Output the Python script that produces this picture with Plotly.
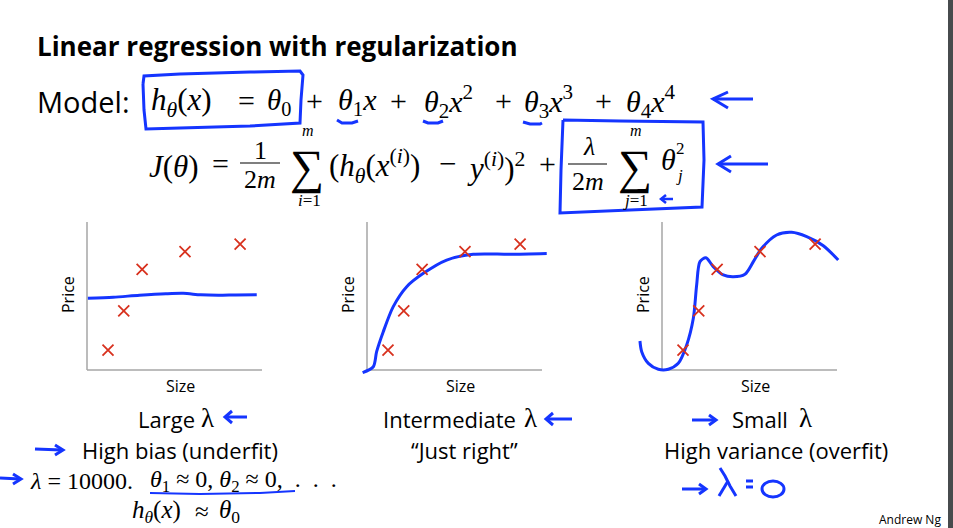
import plotly.graph_objects as go

W, H = 953, 528
SANS = "Open Sans"
SERIF = "Liberation Serif"
BLUE = "#1535ff"
RED = "#d8321f"

size_pts = [1.2, 2.1, 3.15, 5.6, 8.75]
price_pts = [1.35, 4.0, 6.8, 8.0, 8.5]

under_x = [0.05, 1.5, 3.0, 4.5, 5.5, 6.5, 7.5, 8.5, 9.7]
under_y = [4.85, 4.92, 5.05, 5.15, 5.18, 5.08, 5.05, 5.07, 5.08]

right_x = [-0.25, 0.36, 0.55, 0.93, 1.5, 2.27, 3.22, 4.55, 6.07, 8.17, 10.27]
right_y = [-0.18, 0.22, 1.24, 2.59, 4.28, 5.63, 6.53, 7.43, 7.82, 7.82, 7.88]

over_x = [-1.26, -1.16, -0.78, -0.21, 0.36, 0.93, 1.41, 1.79, 1.98, 2.17, 2.51,
          2.93, 3.50, 4.07, 4.74, 5.22, 5.70, 6.55, 7.41, 8.27, 9.22, 10.07]
over_y = [1.96, 1.24, 0.45, 0.05, 0.05, 0.45, 1.69, 3.49, 5.74, 7.32, 7.59,
          6.98, 6.42, 6.30, 6.47, 7.32, 8.22, 9.12, 9.30, 9.01, 8.40, 7.43]

curves = [(under_x, under_y), (right_x, right_y), (over_x, over_y)]
axis_labels = ["Size", "Price"]

# ---- layout helpers ----
def px(x):
    return x / W

def py(y):
    return 1 - y / H

annotations = []
shapes = []

def ann(text, x, y, size, family=SANS, color="black", xa="center", ya="middle", angle=0):
    annotations.append(dict(text=text, x=px(x), y=py(y), xref="paper", yref="paper",
                            showarrow=False, xanchor=xa, yanchor=ya, textangle=angle,
                            font=dict(size=size, family=family, color=color)))

def pen(points, width=3, color=BLUE, closed=False):
    d = "M " + " L ".join(f"{px(a):.5f},{py(b):.5f}" for a, b in points)
    if closed:
        d += " Z"
    shapes.append(dict(type="path", path=d, xref="paper", yref="paper",
                       line=dict(color=color, width=width)))

fig = go.Figure()

# subplot geometry (pixels): axis origins
origins = [87, 367, 662]
oy = 370
ux, uy = 17.5, 14.8
xr = [-1.6, 10.6]
yr = [-0.5, 10.3]

for i, ((cx, cy), ox) in enumerate(zip(curves, origins)):
    n = "" if i == 0 else str(i + 1)
    xa_name, ya_name = "x" + n, "y" + n
    fig.add_trace(go.Scatter(x=cx, y=cy, mode="lines", xaxis=xa_name, yaxis=ya_name,
                             line=dict(color=BLUE, width=3, shape="spline", smoothing=0.8),
                             hoverinfo="skip", showlegend=False))
    fig.add_trace(go.Scatter(x=size_pts, y=price_pts, mode="markers", xaxis=xa_name, yaxis=ya_name,
                             marker=dict(symbol="x-thin", size=11, line=dict(width=1.8, color=RED)),
                             showlegend=False))
    dom_x = [px(ox + xr[0] * ux), px(ox + xr[1] * ux)]
    dom_y = [py(oy - yr[0] * uy), py(oy - yr[1] * uy)]
    fig.layout["xaxis" + n] = dict(domain=dom_x, range=xr, visible=False, anchor=ya_name)
    fig.layout["yaxis" + n] = dict(domain=dom_y, range=yr, visible=False, anchor=xa_name)
    for (x0, y0, x1, y1) in [(0, 0, 0, 10), (0, 0, 10, 0)]:
        shapes.append(dict(type="line", xref=xa_name, yref=ya_name, x0=x0, y0=y0, x1=x1, y1=y1,
                           line=dict(color="#a6a6a6", width=1.5), layer="below"))
    ann(axis_labels[1], ox - 19, 295, 16, angle=-90)
    ann(axis_labels[0], ox + 93, 386, 16)

# ---- title and formulas ----
ann("<b>Linear regression with regularization</b>", 35, 46, 26, xa="left")
ann("Model:", 35, 101, 29, xa="left")
FS = 30
ann("<i>h</i><sub><i>θ</i></sub>(<i>x</i>)", 149, 102, 31, SERIF, xa="left")
ann("=", 246, 100, FS, SERIF)
ann("<i>θ</i><sub>0</sub>", 265, 102, 29, SERIF, xa="left")
for t, x in [("+", 314), ("+", 398), ("+", 503), ("+", 603)]:
    ann(t, x, 100, FS, SERIF)
ann("<i>θ</i><sub>1</sub><i>x</i>", 336, 102, FS, SERIF, xa="left")
ann("<i>θ</i><sub>2</sub><i>x</i><sup>2</sup>", 422, 102, FS, SERIF, xa="left")
ann("<i>θ</i><sub>3</sub><i>x</i><sup>3</sup>", 522, 102, FS, SERIF, xa="left")
ann("<i>θ</i><sub>4</sub><i>x</i><sup>4</sup>", 624, 102, FS, SERIF, xa="left")

# J(theta)
ann("<i>J</i>(<i>θ</i>)", 147, 166, 31, SERIF, xa="left")
ann("=", 220, 164, FS, SERIF)
ann("1", 260, 150, 26, SERIF)
shapes.append(dict(type="line", xref="paper", yref="paper", x0=px(240), x1=px(280), y0=py(163), y1=py(163),
                   line=dict(color="black", width=1.2)))
ann("2<i>m</i>", 260, 180, 26, SERIF)
ann("∑", 307, 167, 48, SERIF)
ann("<i>m</i>", 308, 130, 16, SERIF)
ann("<i>i</i>=1", 309, 201, 17, SERIF)
ann("(<i>h</i><sub><i>θ</i></sub>(<i>x</i><sup>(<i>i</i>)</sup>)", 327, 166, 31, SERIF, xa="left")
ann("−", 447, 164, 31, SERIF)
ann("<i>y</i><sup>(<i>i</i>)</sup>)<sup>2</sup>", 465, 166, 31, SERIF, xa="left")
ann("+", 547, 164, FS, SERIF)
ann("<i>λ</i>", 589, 146, 26, SERIF)
shapes.append(dict(type="line", xref="paper", yref="paper", x0=px(568), x1=px(607), y0=py(164), y1=py(164),
                   line=dict(color="black", width=1.2)))
ann("2<i>m</i>", 588, 181, 26, SERIF)
ann("∑", 635, 167, 48, SERIF)
ann("<i>m</i>", 636, 130, 16, SERIF)
ann("<i>j</i>=1", 635, 201, 17, SERIF)
ann("<i>θ</i>", 659, 160, FS, SERIF, xa="left")
ann("2", 680, 148, 17, SERIF)
ann("<i>j</i>", 679, 176, 17, SERIF)

# ---- captions ----
CS = 22
ann("Large", 197, 419, CS, xa="right")
ann("λ", 199, 418, 27, SERIF, xa="left")
ann("High bias (underfit)", 180, 450, CS)
ann("<i>λ</i> = 10000.", 28, 481, 24, SERIF, xa="left")
ann("<i>θ</i><sub>1</sub> ≈ 0, <i>θ</i><sub>2</sub> ≈ 0,\u2002.\u2002.\u2002.",
    148, 481, 24, SERIF, xa="left")
ann("<i>h</i><sub><i>θ</i></sub>(<i>x</i>)", 130, 511, 25, SERIF, xa="left")
ann("≈", 202, 511, 25, SERIF)
ann("<i>θ</i><sub>0</sub>", 242, 511, 25, SERIF, xa="right")
ann("Intermediate", 518, 419, CS, xa="right")
ann("λ", 522, 418, 27, SERIF, xa="left")
ann("“Just right”", 464, 450, CS)
ann("Small", 760, 419, CS)
ann("λ", 797, 418, 27, SERIF, xa="left")
ann("High variance (overfit)", 776, 450, CS)
ann("Andrew Ng", 943, 519, 12, xa="right")

# ---- handwritten blue marks ----
pen([(143, 84), (144, 76), (180, 74), (250, 72), (300, 71), (303, 75), (301, 100), (300, 123),
     (250, 126), (180, 128), (146, 129), (144, 110), (143, 84)])
pen([(563, 120), (620, 121), (703, 122), (704, 160), (702, 207), (630, 210), (560, 213), (561, 170), (563, 120)])
pen([(337, 120), (342, 123), (352, 123), (358, 121)])
pen([(423, 121), (428, 123), (438, 123), (443, 121)])
pen([(523, 122), (530, 124), (540, 124), (542, 123)])
# arrows
pen([(753, 99), (713, 99)])
pen([(728, 92), (713, 99), (728, 108)])
pen([(768, 164), (718, 164)])
pen([(731, 156), (718, 164), (731, 172)])
pen([(673, 199), (661, 199)], width=2.5)
pen([(666, 195), (661, 199), (666, 203)], width=2.5)
pen([(247, 417), (225, 417)])
pen([(232, 411), (225, 417), (232, 423)])
pen([(35, 449), (62, 450)])
pen([(55, 445), (63, 450), (55, 455)])
pen([(0, 478), (20, 479)])
pen([(13, 474), (21, 479), (13, 484)])
pen([(150, 493), (200, 494), (260, 493), (295, 491)], width=2)
pen([(572, 419), (546, 419)])
pen([(553, 413), (546, 419), (553, 425)])
pen([(692, 420), (716, 420)])
pen([(709, 415), (716, 420), (709, 425)])
pen([(682, 489), (706, 489)])
pen([(699, 484), (706, 489), (699, 494)])
pen([(720, 468), (725, 476), (730, 486), (736, 496)])
pen([(728, 481), (719, 496)])
pen([(746, 481), (753, 481)], width=3)
pen([(746, 487), (753, 487)], width=3)
shapes.append(dict(type="circle", xref="paper", yref="paper", x0=px(762), x1=px(784), y0=py(497), y1=py(481),
                   line=dict(color=BLUE, width=3)))

# right edge bar
shapes.append(dict(type="rect", xref="paper", yref="paper", x0=px(948), x1=1, y0=0, y1=1,
                   fillcolor="#474b4d", line=dict(width=0)))

fig.update_layout(width=W, height=H, margin=dict(l=0, r=0, t=0, b=0),
                  paper_bgcolor="white", plot_bgcolor="white",
                  annotations=annotations, shapes=shapes, showlegend=False)

fig.write_html("out.html", config={"displayModeBar": False},
               post_script="document.body.style.margin='0';document.body.style.overflow='hidden';")
